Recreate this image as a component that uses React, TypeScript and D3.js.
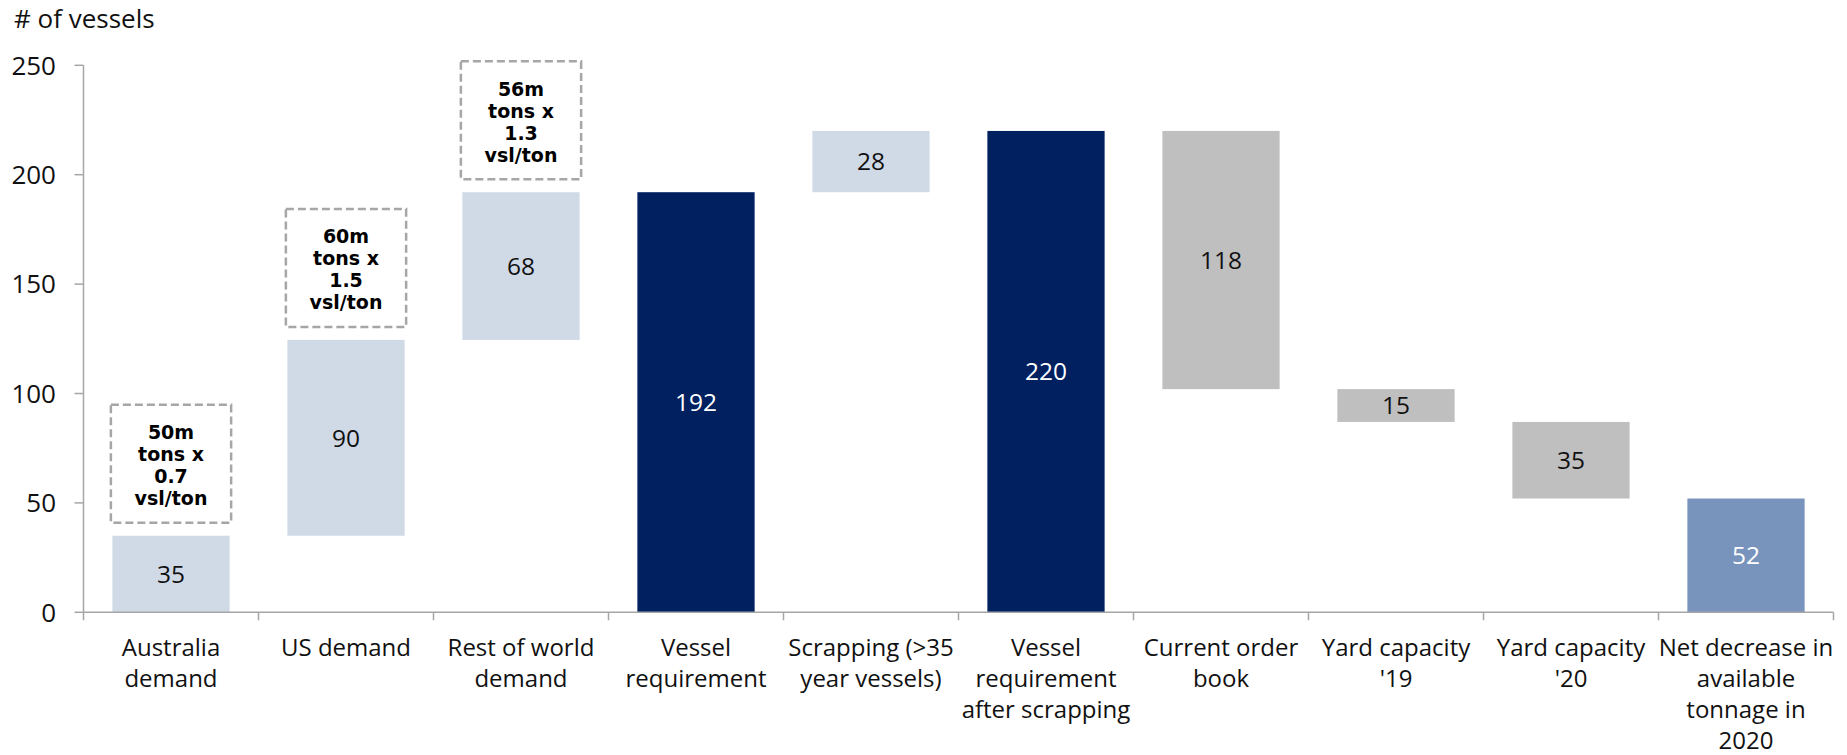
import React from "react";
import * as d3 from "d3";

const categories: string[][] = [
  ["Australia", "demand"],
  ["US demand"],
  ["Rest of world", "demand"],
  ["Vessel", "requirement"],
  ["Scrapping (>35", "year vessels)"],
  ["Vessel", "requirement", "after scrapping"],
  ["Current order", "book"],
  ["Yard capacity", "'19"],
  ["Yard capacity", "'20"],
  ["Net decrease in", "available", "tonnage in", "2020"],
];

const deltas: number[] = [35, 89.5, 67.5, 192, 28, 220, -118, -15, -35, 52];
const kinds: string[] = [
  "step", "step", "step", "total", "step", "total", "down", "down", "down", "net",
];
const notes: (string[] | null)[] = [
  ["50m", "tons x", "0.7", "vsl/ton"],
  ["60m", "tons x", "1.5", "vsl/ton"],
  ["56m", "tons x", "1.3", "vsl/ton"],
  null, null, null, null, null, null, null,
];
const yTicks: number[] = [0, 50, 100, 150, 200, 250];
const yTitle = "# of vessels";

const W = 1847;
const H = 755;
const FONT = "'Open Sans', sans-serif";

const fills: Record<string, string> = {
  step: "#D0DAE7",
  total: "#002060",
  down: "#BFBFBF",
  net: "#7893BC",
};
const textFills: Record<string, string> = {
  step: "#111",
  total: "#fff",
  down: "#111",
  net: "#fff",
};

export default function App() {
  const x = d3
    .scaleBand<number>()
    .domain(categories.map((_, i) => i))
    .range([83.5, 1833.5])
    .paddingInner(0.33)
    .paddingOuter(0.165);
  const y = d3.scaleLinear().domain([0, 250]).range([612.3, 65.3]);

  let running = 0;
  const bars = deltas.map((d, i) => {
    let lo: number, hi: number;
    if (kinds[i] === "total" || kinds[i] === "net") {
      lo = 0;
      hi = d;
      running = d;
    } else {
      const next = running + d;
      lo = Math.min(running, next);
      hi = Math.max(running, next);
      running = next;
    }
    return { i, lo, hi, label: String(Math.round(Math.abs(d))), kind: kinds[i] };
  });

  const step = x.step();
  const bw = x.bandwidth();
  const x0 = x.range()[0];
  const x1 = x.range()[1];
  const yAxisX = x0;
  const baseY = y(0);

  const separators = categories.map((_, i) => x0 + i * step).concat([x1]);

  return (
    <svg
      width={W}
      height={H}
      style={{ position: "absolute", left: 0, top: 0, background: "#fff" }}
      fontFamily={FONT}
    >
      <rect x={0} y={0} width={W} height={H} fill="#fff" />
      <text x={14} y={28} fontSize={26} fill="#111">
        {yTitle}
      </text>

      {/* y axis */}
      <line x1={yAxisX} x2={yAxisX} y1={y(250)} y2={baseY} stroke="#A6A6A6" strokeWidth={1.5} />
      {yTicks.map((t) => (
        <g key={t}>
          <line x1={yAxisX - 9} x2={yAxisX} y1={y(t)} y2={y(t)} stroke="#A6A6A6" strokeWidth={1.5} />
          <text
            x={56}
            y={y(t)}
            dy="0.36em"
            textAnchor="end"
            fontSize={26}
            fill="#111"
          >
            {t}
          </text>
        </g>
      ))}

      {/* bars */}
      {bars.map((b) => {
        const bx = x(b.i)!;
        const top = y(b.hi);
        const bottom = y(b.lo);
        return (
          <g key={b.i}>
            <rect x={bx} y={top} width={bw} height={bottom - top} fill={fills[b.kind]} />
            <text
              x={bx + bw / 2}
              y={(top + bottom) / 2}
              dy="0.36em"
              textAnchor="middle"
              fontSize={24.5}
              fill={textFills[b.kind]}
            >
              {b.label}
            </text>
          </g>
        );
      })}

      {/* dashed note boxes */}
      {bars.map((b) => {
        const n = notes[b.i];
        if (!n) return null;
        const bx = x(b.i)! - 1.5;
        const boxW = bw + 3;
        const boxBottom = y(b.hi) - 13;
        const boxH = 118;
        const boxTop = boxBottom - boxH;
        const cy = boxTop + boxH / 2 + 1.5;
        const lh = 22;
        return (
          <g key={"n" + b.i}>
            <rect
              x={bx}
              y={boxTop}
              width={boxW}
              height={boxH}
              fill="#fff"
              stroke="#A6A6A6"
              strokeWidth={2.5}
              strokeDasharray="8 4"
            />
            {n.map((line, k) => (
              <text
                key={k}
                x={bx + boxW / 2}
                y={cy + (k - (n.length - 1) / 2) * lh}
                dy="0.36em"
                textAnchor="middle"
                fontFamily="'DejaVu Sans', Verdana, sans-serif"
                fontWeight="bold"
                fontSize={19}
                fill="#000"
              >
                {line}
              </text>
            ))}
          </g>
        );
      })}

      {/* x axis */}
      <line x1={x0} x2={x1} y1={baseY} y2={baseY} stroke="#A6A6A6" strokeWidth={1.5} />
      {separators.map((sx, i) => (
        <line key={i} x1={sx} x2={sx} y1={baseY} y2={baseY + 8} stroke="#A6A6A6" strokeWidth={1.5} />
      ))}
      {categories.map((lines, i) => (
        <text key={i} textAnchor="middle" fontSize={24} fill="#111">
          {lines.map((ln, k) => (
            <tspan key={k} x={x(i)! + bw / 2} y={656 + k * 31}>
              {ln}
            </tspan>
          ))}
        </text>
      ))}
    </svg>
  );
}
